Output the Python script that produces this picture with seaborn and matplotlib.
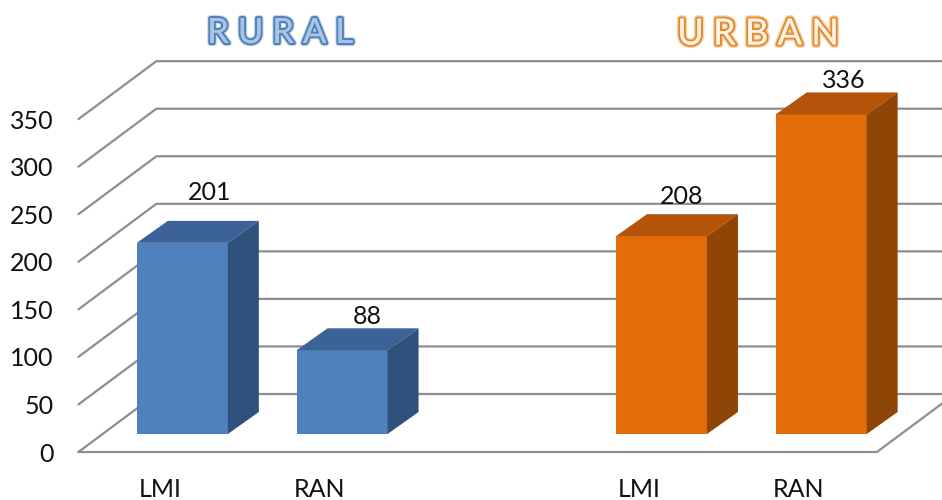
import matplotlib

matplotlib.use("Agg")
import matplotlib.patheffects as pe
import matplotlib.pyplot as plt
import pandas as pd
import seaborn as sns
from matplotlib.patches import Polygon

slots = ["Rural LMI", "Rural RAN", "gap", "Urban LMI", "Urban RAN"]
slot_labels = ["LMI", "RAN", "", "LMI", "RAN"]
bar_slots = ["Rural LMI", "Rural RAN", "Urban LMI", "Urban RAN"]
areas = ["Rural", "Rural", "Urban", "Urban"]
values = [201, 88, 208, 336]
y_ticks = [0, 50, 100, 150, 200, 250, 300, 350]

FRONT = {"Rural": "#4f81bd", "Urban": "#e36c0a"}
TOP = {"Rural": "#3b6398", "Urban": "#b3540a"}
SIDE = {"Rural": "#2f527c", "Urban": "#8f4505"}

W, H = 942, 500
PX_PER_UNIT = 0.951
PX_PER_SLOT = 159.7
FONT = ["Lato", "DejaVu Sans"]


def draw_walls(ax):
    # depth of the fake 3d box, in data units
    dx = 78 / PX_PER_SLOT
    dy = 58 / PX_PER_UNIT
    right = 4.5 + 65 / PX_PER_SLOT
    for v in y_ticks:
        ax.plot(
            [-0.51, -0.51 + dx, right],
            [v, v + dy, v + dy],
            color="#8e8e8e",
            lw=1.6,
            clip_on=False,
            zorder=1,
        )
    # floor front edge
    ax.plot(
        [-0.51, 4.49, 4.49 + dx],
        [0, 0, dy],
        color="#8e8e8e",
        lw=1.6,
        clip_on=False,
        zorder=1,
    )


def draw_bars(fig):
    ax = fig.add_axes([102.5 / W, (H - 434) / H, 5 * PX_PER_SLOT / W, 434 / H])
    ax.patch.set_alpha(0)
    data = pd.DataFrame({"slot": bar_slots, "area": areas, "value": values})
    sns.barplot(
        data=data,
        x="slot",
        y="value",
        hue="area",
        order=slots,
        palette=FRONT,
        width=91 / PX_PER_SLOT,
        dodge=False,
        legend=False,
        saturation=1,
        linewidth=0,
        ax=ax,
    )
    ax.set_xlim(-0.5, 4.5)
    ax.set_ylim(0, 434 / PX_PER_UNIT)
    ax.axis("off")

    dx = 31 / PX_PER_SLOT
    dy = 22 / PX_PER_UNIT
    label_offsets = [(27, 50), (25, 34), (20.5, 40), (22.5, 34)]
    bars = [p for p in ax.patches if p.get_height() > 0]
    bars.sort(key=lambda p: p.get_x())
    for bar, area, value, off in zip(bars, areas, values, label_offsets):
        x0, x1 = bar.get_x(), bar.get_x() + bar.get_width()
        h = bar.get_height()
        ax.add_patch(
            Polygon(
                [(x0, h), (x1, h), (x1 + dx, h + dy), (x0 + dx, h + dy)],
                facecolor=TOP[area],
                linewidth=0,
                clip_on=False,
            )
        )
        ax.add_patch(
            Polygon(
                [(x1, 0), (x1, h), (x1 + dx, h + dy), (x1 + dx, dy)],
                facecolor=SIDE[area],
                linewidth=0,
                clip_on=False,
            )
        )
        ax.annotate(
            str(value),
            xy=((x0 + x1) / 2, h),
            xytext=(off[0] * 0.72, off[1] * 0.72),
            textcoords="offset points",
            ha="center",
            va="center",
            fontsize=18,
            color="#111111",
            annotation_clip=False,
        )


def chart():
    sns.set_style("white")
    plt.rcParams["font.family"] = FONT

    fig = plt.figure(figsize=(W / 100, H / 100), dpi=100)
    ax = fig.add_axes([80 / W, (H - 452) / H, 5 * PX_PER_SLOT / W, 392 / H])
    ax.patch.set_alpha(0)
    ax.set_xlim(-0.5, 4.5)
    ax.set_ylim(0, 392 / PX_PER_UNIT)
    draw_walls(ax)

    ax.set_yticks(y_ticks)
    ax.set_xticks(range(len(slot_labels)))
    ax.set_xticklabels(slot_labels)
    ax.tick_params(axis="y", length=0, pad=19, labelsize=18, labelcolor="#111111")
    ax.tick_params(axis="x", length=0, pad=18.5, labelsize=18, labelcolor="#111111")
    sns.despine(ax=ax, left=True, bottom=True)

    draw_bars(fig)

    fig.text(
        280 / W,
        1 - 33 / H,
        "R U R A L",
        ha="center",
        va="center",
        fontsize=25,
        color="#a9c5e4",
        path_effects=[
            pe.withStroke(linewidth=4.5, foreground="#c9d6e6"),
            pe.withStroke(linewidth=3, foreground="#4f81bd"),
            pe.Normal(),
        ],
    )
    fig.text(
        758 / W,
        1 - 34 / H,
        "U R B A N",
        ha="center",
        va="center",
        fontsize=26,
        color="#fdf3e6",
        path_effects=[
            pe.withStroke(linewidth=5, foreground="#f9d5ac"),
            pe.withStroke(linewidth=3, foreground="#e58a2f"),
            pe.Normal(),
        ],
    )

    fig.savefig("out.png", dpi=100)


if __name__ == "__main__":
    chart()
